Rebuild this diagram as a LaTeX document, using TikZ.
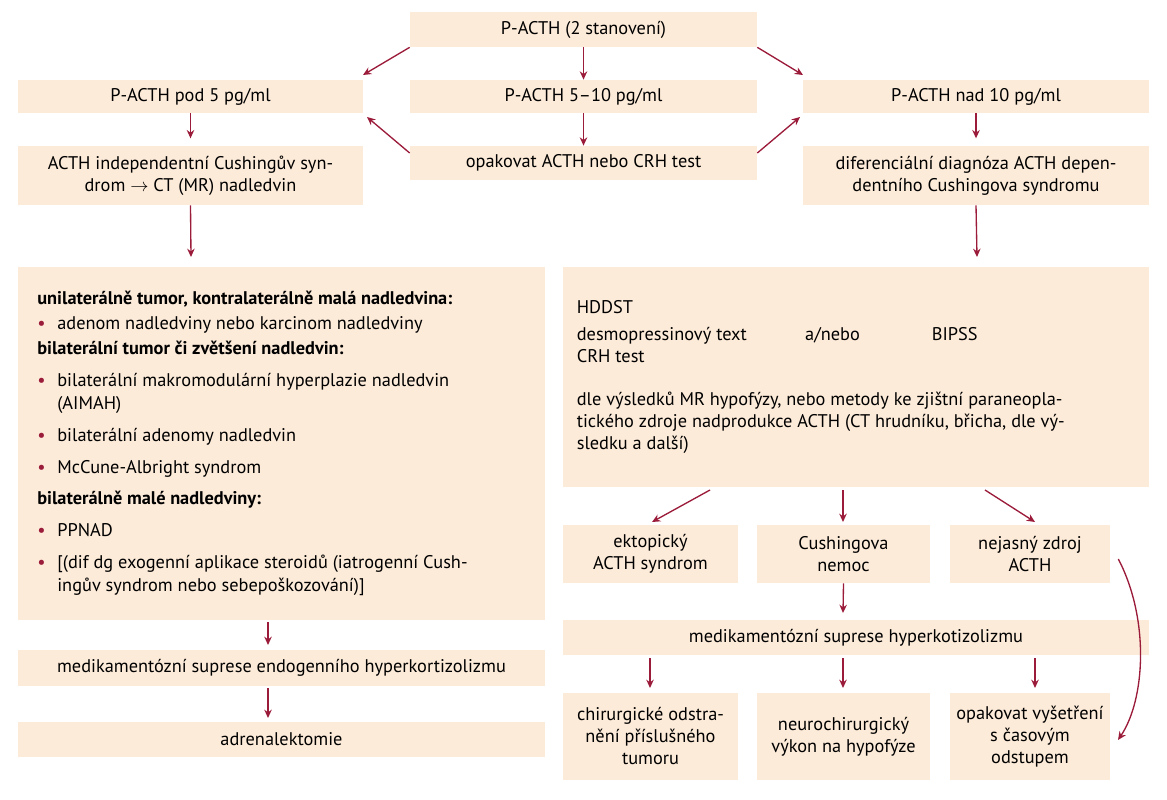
\documentclass[tikz,border=0pt]{standalone}
\usepackage{fontspec}
\setmainfont{PT Sans}
\usetikzlibrary{arrows.meta}
\definecolor{acc}{HTML}{9B1B3A}
\definecolor{boxf}{HTML}{FDEBD9}
\begin{document}
\begin{tikzpicture}[x=0.6pt,y=-0.6pt,
  box/.style={fill=boxf,draw=none,inner sep=2pt,align=center,font=\fontsize{11}{13.2}\selectfont},
  arr/.style={draw=acc,line width=0.8pt,-{Stealth[length=5pt,width=4.5pt]}}]
\useasboundingbox (0,0) rectangle (1167,800);
\newcommand\bx[6]{\node[box,minimum width={(#4-#2)*0.6pt},minimum height={(#5-#3)*0.6pt}] (#1) at ({(#2+#4)/2},{(#3+#5)/2}) {#6};}
\newcommand\bl{\makebox[12pt][l]{\textcolor{acc}{\textbullet}}}
\bx{top}{410}{12}{757}{47}{P-ACTH (2 stanovení)}
\bx{l2}{18}{80}{363}{113}{P-ACTH pod 5 pg/ml}
\bx{m2}{410}{80}{757}{113}{P-ACTH 5–10 pg/ml}
\bx{r2}{803}{80}{1149}{113}{P-ACTH nad 10 pg/ml}
\bx{l3}{18}{146}{363}{205}{ACTH independentní Cushingův syn-\\drom $\rightarrow$ CT (MR) nadledvin}
\bx{m3}{410}{146}{757}{180}{opakovat ACTH nebo CRH test}
\bx{r3}{803}{146}{1149}{205}{diferenciální diagnóza ACTH depen-\\dentního Cushingova syndromu}
\bx{bigl}{18}{267}{545}{620}{\begin{minipage}{293pt}\raggedright\baselineskip=14pt
\textbf{unilaterálně tumor, kontralaterálně malá nadledvina:}\\[1pt]
\bl adenom nadledviny nebo karcinom nadledviny\\[1pt]
\textbf{bilaterální tumor či zvětšení nadledvin:}\\[5pt]
\bl bilaterální makromodulární hyperplazie nadledvin\\
\hspace*{12pt}(AIMAH)\\[5pt]
\bl bilaterální adenomy nadledvin\\[5pt]
\bl McCune-Albright syndrom\\[5pt]
\textbf{bilaterálně malé nadledviny:}\\[5pt]
\bl PPNAD\\[5pt]
\bl [(dif dg exogenní aplikace steroidů (iatrogenní Cush-\\
\hspace*{12pt}ingův syndrom nebo sebepoškozování)]
\end{minipage}}
\bx{bigr}{563}{267}{1149}{487}{\begin{minipage}{335pt}\raggedright
HDDST\\[3pt]
\makebox[137pt][l]{desmopressinový text}\makebox[76pt][l]{a/nebo}BIPSS\\
CRH test\\[13pt]
dle výsledků MR hypofýzy, nebo metody ke zjištní paraneopla-\\
tického zdroje nadprodukce ACTH (CT hrudníku, břicha, dle vý-\\
sledku a další)
\end{minipage}}
\bx{ek}{563}{525}{738}{583}{ektopický\\ACTH syndrom}
\bx{cu}{757}{525}{930}{583}{Cushingova\\nemoc}
\bx{ne}{950}{525}{1110}{583}{nejasný zdroj\\ACTH}
\bx{medr}{563}{620}{1149}{655}{medikamentózní suprese hyperkotizolizmu}
\bx{ch}{563}{693}{738}{780}{chirurgické odstra-\\nění příslušného\\tumoru}
\bx{nc}{757}{693}{930}{780}{neurochirurgický\\výkon na hypofýze}
\bx{op}{950}{693}{1110}{780}{opakovat vyšetření\\s časovým\\odstupem}
\bx{medl}{18}{650}{545}{686}{medikamentózní suprese endogenního hyperkortizolizmu}
\bx{adr}{18}{722}{545}{757}{adrenalektomie}
\coordinate (cend) at (1118,740);
\draw[arr] (top.south west) -- (363,75);
\draw[arr] (top.south) -- (m2.north);
\draw[arr] (top.south east) -- (803,75);
\draw[arr] (m2.south) -- (m3.north);
\draw[arr] (m3.west) ++(0,-10) -- (367,117);
\draw[arr] (m3.east) ++(0,-10) -- (800,117);
\draw[arr] (l2.south) -- ++(0,25);
\draw[arr] (r2.south) -- ++(0,25);
\draw[arr] (l3.south) -- (191,257);
\draw[arr] (r3.south) -- (977,257);
\draw[arr] (710,490) -- (652,522);
\draw[arr] (843,490) -- (843,522);
\draw[arr] (985,490) -- (1035,522);
\draw[arr] (cu.south) -- (843,613);
\draw[arr] (650,658) -- (650,688);
\draw[arr] (843,658) -- (843,688);
\draw[arr] (1035,658) -- (1035,688);
\draw[arr] (268,622) -- (268,645);
\draw[arr] (268,688) -- (268,718);
\draw[arr] (ne.east) ++(8,5) .. controls (1150,620) and (1145,700) .. (cend);
\end{tikzpicture}
\end{document}
